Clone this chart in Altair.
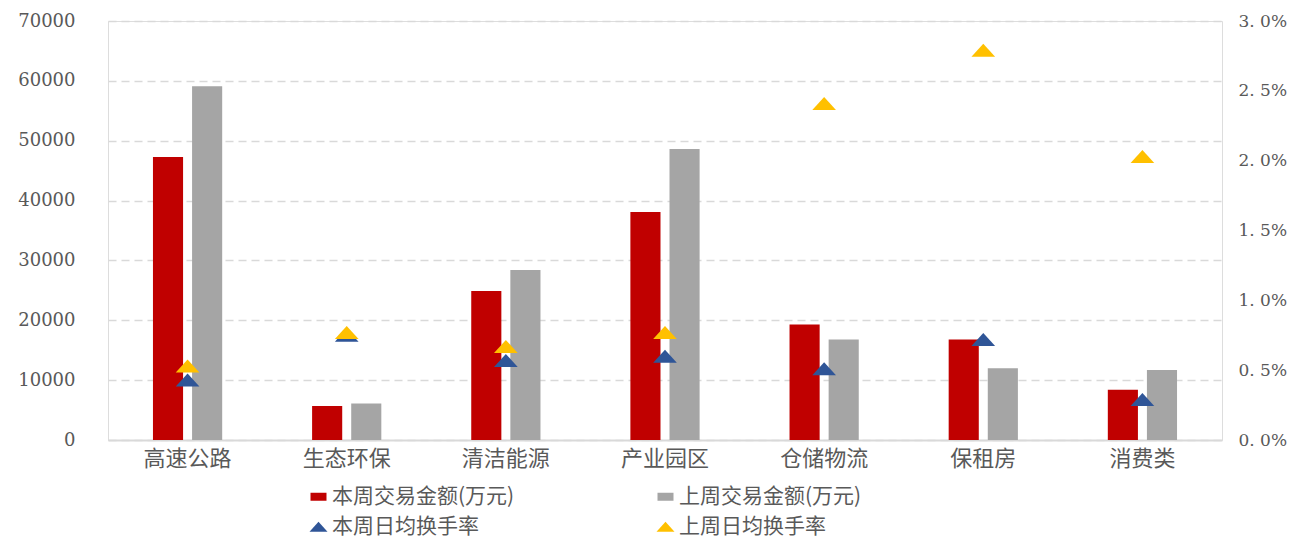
import altair as alt
import pandas as pd

categories = ["高速公路", "生态环保", "清洁能源", "产业园区", "仓储物流", "保租房", "消费类"]
this_week_amount = [47300, 5700, 24900, 38100, 19300, 16800, 8400]
last_week_amount = [59100, 6100, 28400, 48600, 16800, 12000, 11700]
this_week_rate = [0.0043, 0.0075, 0.0057, 0.0060, 0.0051, 0.0072, 0.0029]
last_week_rate = [0.0053, 0.0077, 0.0067, 0.0077, 0.0241, 0.0279, 0.0203]

amount_series = ["本周交易金额(万元)", "上周交易金额(万元)"]
rate_series = ["本周日均换手率", "上周日均换手率"]

bar_df = pd.DataFrame({
    "cat": categories * 2,
    "series": [amount_series[0]] * 7 + [amount_series[1]] * 7,
    "value": this_week_amount + last_week_amount,
})
rate_df = pd.DataFrame({
    "cat": categories * 2,
    "series": [rate_series[0]] * 7 + [rate_series[1]] * 7,
    "rate": this_week_rate + last_week_rate,
})

CJK = "Noto Sans CJK SC"
NUM = "DejaVu Serif"
LABEL = "#595959"
tri = "M-1,0.55L1,0.55L0,-0.55Z"
rect = "M-1,-0.5L1,-0.5L1,0.5L-1,0.5Z"

xenc = alt.X("cat:N", sort=categories, title=None,
             scale=alt.Scale(paddingInner=0.565, paddingOuter=0.2825),
             axis=alt.Axis(labelAngle=0, ticks=False, domain=True, domainColor="#D9D9D9",
                           domainWidth=2, labelFont=CJK, labelFontSize=22, labelColor=LABEL,
                           labelPadding=8, grid=False))

bars = alt.Chart(bar_df).mark_bar().encode(
    x=xenc,
    xOffset=alt.XOffset("series:N", sort=amount_series,
                        scale=alt.Scale(paddingInner=0.23, paddingOuter=0)),
    y=alt.Y("value:Q", title=None,
            scale=alt.Scale(domain=[0, 70000], nice=False),
            axis=alt.Axis(values=list(range(0, 70001, 10000)), orient="left", ticks=False,
                          domain=False, labelFont=NUM, labelFontSize=18, labelColor=LABEL,
                          labelPadding=33, grid=True, gridColor="#D9D9D9", gridDash=[8, 5],
                          gridWidth=1.5, format="d")),
    color=alt.Color("series:N", sort=amount_series,
                    scale=alt.Scale(domain=amount_series, range=["#C00000", "#A5A5A5"]),
                    legend=alt.Legend(title=None, orient="none", legendX=200, legendY=465,
                                      direction="horizontal", symbolType=rect,
                                      symbolSize=256, labelFont=CJK, labelFontSize=21,
                                      labelColor=LABEL, labelLimit=500, columnPadding=140,
                                      labelOffset=3, padding=0)),
)

points = alt.Chart(rate_df).mark_point(shape=tri, filled=True, size=560, opacity=1).encode(
    x=xenc,
    y=alt.Y("rate:Q", title=None,
            scale=alt.Scale(domain=[0, 0.03], nice=False),
            axis=alt.Axis(values=[0, 0.005, 0.01, 0.015, 0.02, 0.025, 0.03], orient="right",
                          ticks=False, domain=False, grid=False, labelFont=NUM,
                          labelFontSize=17, labelColor=LABEL, labelPadding=16,
                          labelExpr="replace(format(datum.value, '.1%'), '.', '. ')")),
    color=alt.Color("series:N", sort=rate_series,
                    scale=alt.Scale(domain=rate_series, range=["#2F5597", "#FFC000"]),
                    legend=alt.Legend(title=None, orient="none", legendX=200, legendY=495,
                                      direction="horizontal", symbolType=tri,
                                      symbolSize=324, labelFont=CJK, labelFontSize=21,
                                      labelColor=LABEL, labelLimit=500, columnPadding=176,
                                      labelOffset=3, padding=0)),
)

chart = alt.layer(bars, points).resolve_scale(y="independent", color="independent").properties(
    width=1114, height=419,
    autosize=alt.AutoSizeParams(type="none"),
    padding={"left": 100, "top": 13, "right": 65, "bottom": 100},
).configure_view(stroke=None).configure(background="white")

chart.save("out.html", embed_options={"renderer": "svg", "actions": False})
